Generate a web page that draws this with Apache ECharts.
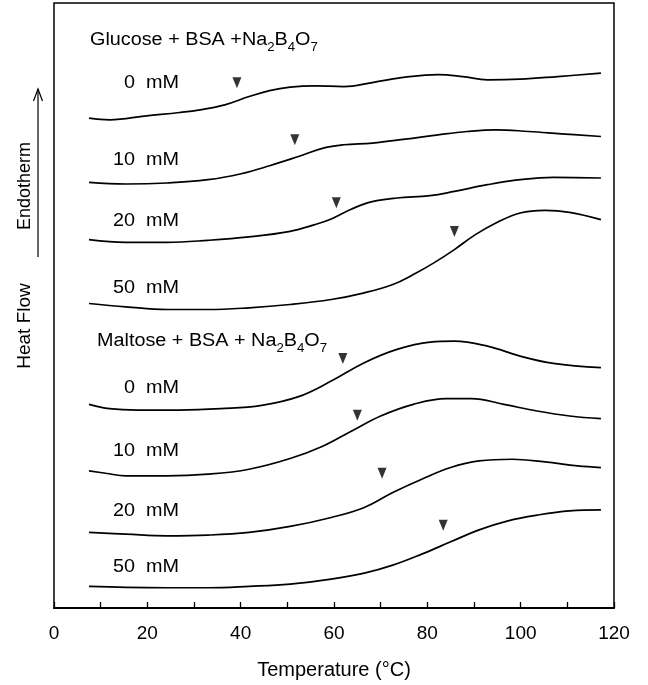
<!DOCTYPE html>
<html>
<head>
<meta charset="utf-8">
<title>DSC curves</title>
<script src="https://cdn.jsdelivr.net/npm/echarts@6/dist/echarts.min.js"></script>
<style>
  html, body { margin: 0; padding: 0; background: #fff; }
  #main { width: 648px; height: 685px; }
</style>
</head>
<body>
<div id="main"></div>
<script>
// 温度 (°C) 与热流 (任意单位, 曲线已上下错开)
var glc0 = [[7.5, 490.7], [11.9, 489], [19.8, 493], [26.9, 496.3], [31.3, 499], [36.6, 504], [41.8, 512.3], [46.2, 518.3], [50.6, 521.7], [55.9, 523], [62.1, 522.3], [68.2, 526.3], [75.3, 531.7], [82.3, 534.3], [87.6, 532.3], [92.9, 529], [99.9, 529.7], [107.9, 532.3], [117.2, 535.7]];
var glc10 = [[7.5, 426.3], [15.4, 424.7], [24.2, 425.7], [33.0, 429], [40.1, 435], [46.2, 443], [52.4, 452.3], [57.7, 460.7], [62.1, 464], [68.2, 465.7], [75.3, 469.7], [82.3, 474], [88.5, 477.3], [94.7, 479], [101.7, 477.3], [108.7, 475], [117.2, 472.3]];
var glc20 = [[7.5, 369], [15.4, 366.3], [24.2, 366.3], [33.0, 368.3], [41.8, 371.7], [50.6, 377.3], [55.9, 384], [59.4, 389.7], [63.8, 399.7], [68.2, 407], [73.5, 410.7], [80.6, 413], [85.8, 417.3], [92.9, 424], [99.9, 429], [107.0, 431.3], [117.2, 430.7]];
var glc50 = [[7.5, 305], [15.4, 301.7], [24.2, 299], [33.0, 299], [41.8, 300.7], [50.6, 304], [59.4, 309], [66.5, 315.7], [72.6, 324], [77.0, 334], [81.4, 345.7], [85.8, 359], [90.3, 374], [94.7, 385.7], [99.9, 395.7], [105.2, 398.3], [110.5, 396.3], [117.2, 389]];
var mal0 = [[7.5, 204], [11.9, 199.7], [18.1, 198.3], [26.9, 198.3], [35.7, 199.7], [44.5, 203], [52.4, 211.7], [59.4, 227.3], [66.5, 245.7], [73.5, 259], [80.6, 266.3], [85.8, 267.3], [92.9, 262.3], [99.9, 252.3], [107.0, 245], [117.2, 240.7]];
var mal10 = [[7.5, 137.3], [11.1, 135], [15.4, 132.3], [24.2, 132.3], [33.0, 134], [41.8, 139], [50.6, 149.7], [57.7, 162.3], [63.8, 177.3], [70.0, 192.3], [77.0, 204], [84.1, 209.7], [89.4, 209.7], [96.4, 204], [103.5, 197.3], [110.5, 192.3], [117.2, 189.7]];
var mal20 = [[7.5, 75.7], [15.4, 74], [24.2, 72.3], [33.0, 73], [41.8, 75.7], [50.6, 81.7], [59.4, 90.7], [66.5, 100.7], [72.6, 115.7], [78.8, 129], [85.0, 140.7], [91.1, 147.3], [98.2, 149], [105.2, 146.3], [112.2, 142.3], [117.2, 140.7]];
var mal50 = [[7.5, 21.7], [15.4, 20.7], [24.2, 20.3], [33.0, 20.3], [41.8, 21.7], [50.6, 24], [59.4, 29], [66.5, 35], [72.6, 43], [78.8, 54], [85.0, 66.3], [91.1, 78.3], [97.3, 87.3], [103.5, 93], [110.5, 97.3], [117.2, 98.3]];

// 三角形标记 (转变起始温度)
var onsets = [[39.2, 526], [51.6, 469], [60.5, 406], [85.8, 377], [61.9, 250], [65.0, 193], [70.3, 135], [83.4, 83]];

var concLabels = ['0  mM', '10  mM', '20  mM', '50  mM'];
var xTicks = [0, 20, 40, 60, 80, 100, 120];

var FONT = '"Liberation Sans", Arial, Helvetica, sans-serif';

var myChart = echarts.init(document.getElementById('main'));

function curve(data) {
  return {
    type: 'line',
    data: data,
    smooth: 0.4,
    symbol: 'none',
    lineStyle: { color: '#000', width: 1.7 },
    z: 3
  };
}

function txt(x, y, text, align) {
  return {
    type: 'text', x: x, y: y, scaleX: 1.1,
    style: {
      text: text, fill: '#000', fontSize: 18, fontFamily: FONT,
      textAlign: align, align: align, textVerticalAlign: 'middle', verticalAlign: 'middle'
    }
  };
}

// 化学式下标用富文本
function title(x, y, main) {
  var t = txt(x, y, '{n|' + main + '}{s|2}{n|B}{s|4}{n|O}{s|7}', 'left');
  t.style.rich = {
    n: { fontSize: 18, fontFamily: FONT, lineHeight: 20, verticalAlign: 'top', fill: '#000' },
    s: { fontSize: 12, fontFamily: FONT, lineHeight: 12, verticalAlign: 'top', padding: [11, 0, 0, 0], fill: '#000' }
  };
  return t;
}

var graphics = [
  title(90, 41, 'Glucose + BSA +Na'),
  title(97, 342, 'Maltose + BSA + Na'),
  txt(179, 83, concLabels[0], 'right'),
  txt(179, 160, concLabels[1], 'right'),
  txt(179, 221, concLabels[2], 'right'),
  txt(179, 288, concLabels[3], 'right'),
  txt(179, 388, concLabels[0], 'right'),
  txt(179, 451, concLabels[1], 'right'),
  txt(179, 511, concLabels[2], 'right'),
  txt(179, 567, concLabels[3], 'right'),
  // y轴说明
  {
    type: 'text', x: 25, y: 186, rotation: Math.PI / 2,
    style: { text: 'Endotherm', fill: '#000', fontSize: 18, fontFamily: FONT,
      textAlign: 'center', align: 'center', textVerticalAlign: 'middle', verticalAlign: 'middle' }
  },
  {
    type: 'text', x: 25, y: 326, rotation: Math.PI / 2,
    style: { text: 'Heat Flow', fill: '#000', fontSize: 19, fontFamily: FONT,
      textAlign: 'center', align: 'center', textVerticalAlign: 'middle', verticalAlign: 'middle' }
  },
  { type: 'line', shape: { x1: 38, y1: 257, x2: 38, y2: 89 }, style: { stroke: '#000', lineWidth: 1.2 } },
  { type: 'polyline', shape: { points: [[33.5, 101], [38, 89], [42.5, 101]] }, style: { stroke: '#000', fill: null, lineWidth: 1.2 } }
];

var option = {
  animation: false,
  backgroundColor: '#fff',
  grid: {
    left: 54, right: 34, top: 3, bottom: 76,
    show: true, borderColor: '#000', borderWidth: 1.5, backgroundColor: 'transparent'
  },
  xAxis: {
    type: 'value',
    min: xTicks[0],
    max: xTicks[xTicks.length - 1],
    interval: 20,
    name: 'Temperature (°C)',
    nameLocation: 'middle',
    nameGap: 52,
    nameTextStyle: { color: '#000', fontSize: 20, fontFamily: FONT },
    axisLine: { show: true, onZero: false, lineStyle: { color: '#000', width: 2.2 } },
    axisTick: { show: true, inside: true, length: 6, lineStyle: { color: '#000', width: 1.3 } },
    minorTick: { show: true, splitNumber: 2, length: 6, lineStyle: { color: '#000', width: 1.3 } },
    axisLabel: { color: '#000', fontSize: 19, fontFamily: FONT, margin: 16 },
    splitLine: { show: false }
  },
  yAxis: {
    type: 'value',
    min: 0,
    max: 606,
    show: false
  },
  graphic: graphics,
  series: [
    curve(glc0), curve(glc10), curve(glc20), curve(glc50),
    curve(mal0), curve(mal10), curve(mal20), curve(mal50),
    {
      type: 'scatter',
      data: onsets,
      symbol: 'triangle',
      symbolRotate: 180,
      symbolSize: [9, 11],
      itemStyle: { color: '#000' },
      z: 4
    }
  ]
};

myChart.setOption(option);
</script>
</body>
</html>
